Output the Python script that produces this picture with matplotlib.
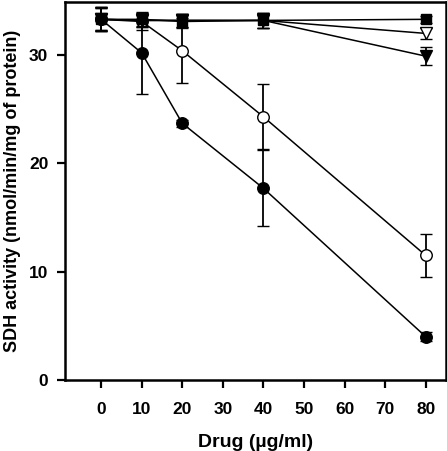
import matplotlib
matplotlib.use("Agg")
import matplotlib.pyplot as plt

plt.rcParams['font.family'] = ['Liberation Sans', 'DejaVu Sans']
plt.rcParams['font.weight'] = 'bold'

drug = [0, 10, 20, 40, 80]
xticks = [0, 10, 20, 30, 40, 50, 60, 70, 80]
yticks = [0, 10, 20, 30]

sq_y = [33.3, 33.3, 33.1, 33.2, 33.3]
sq_e = [1.0, 0.6, 0.6, 0.7, 0.3]
otri_y = [33.3, 33.2, 33.2, 33.2, 32.0]
otri_e = [1.0, 0.6, 0.6, 0.7, 0.5]
ftri_y = [33.3, 33.2, 33.2, 33.2, 29.9]
ftri_e = [1.1, 0.6, 0.6, 0.7, 0.8]
ocirc_y = [33.3, 33.1, 30.4, 24.3, 11.5]
ocirc_e = [1.1, 0.8, 3.0, 3.0, 2.0]
fcirc_y = [33.3, 30.2, 23.7, 17.7, 4.0]
fcirc_e = [1.1, 3.8, 0.3, 3.5, 0.4]

fig = plt.figure(figsize=(4.47, 4.51), dpi=100)
ax = fig.add_axes([65/447, 1-380/451, 381/447, 378/451])

common = dict(color='black', lw=1.1, capsize=4.5, elinewidth=1.3, capthick=1.3,
              markeredgecolor='black', markeredgewidth=1.0, clip_on=False)
ax.errorbar(drug, fcirc_y, yerr=fcirc_e, marker='o', ms=8.3, mfc='black', zorder=3, **common)
ax.errorbar(drug, ocirc_y, yerr=ocirc_e, marker='o', ms=8.3, mfc='white', zorder=4, **common)
ax.errorbar(drug, ftri_y, yerr=ftri_e, marker='v', ms=8.3, mfc='black', zorder=5, **common)
ax.errorbar(drug, otri_y, yerr=otri_e, marker='v', ms=8.3, mfc='white', zorder=6, **common)
ax.errorbar(drug, sq_y, yerr=sq_e, marker='s', ms=7.5, mfc='black', zorder=7, **common)

ax.set_xlim(-8.9, 85.0)
ax.set_ylim(0, 34.9)
ax.set_xticks(xticks)
ax.set_yticks(yticks)
ax.tick_params(direction='out', length=6, width=1.6, labelsize=12.5)
ax.tick_params(axis='x', pad=10)
ax.tick_params(axis='y', pad=6)
for s in ax.spines.values():
    s.set_linewidth(1.8)
for lab in ax.get_xticklabels() + ax.get_yticklabels():
    lab.set_fontweight('bold')

ax.set_xlabel('Drug (µg/ml)', fontsize=14, fontweight='bold', labelpad=12)
ax.set_ylabel('SDH activity (nmol/min/mg of protein)', fontsize=13, fontweight='bold', labelpad=6)

fig.savefig('out.png', dpi=100)
